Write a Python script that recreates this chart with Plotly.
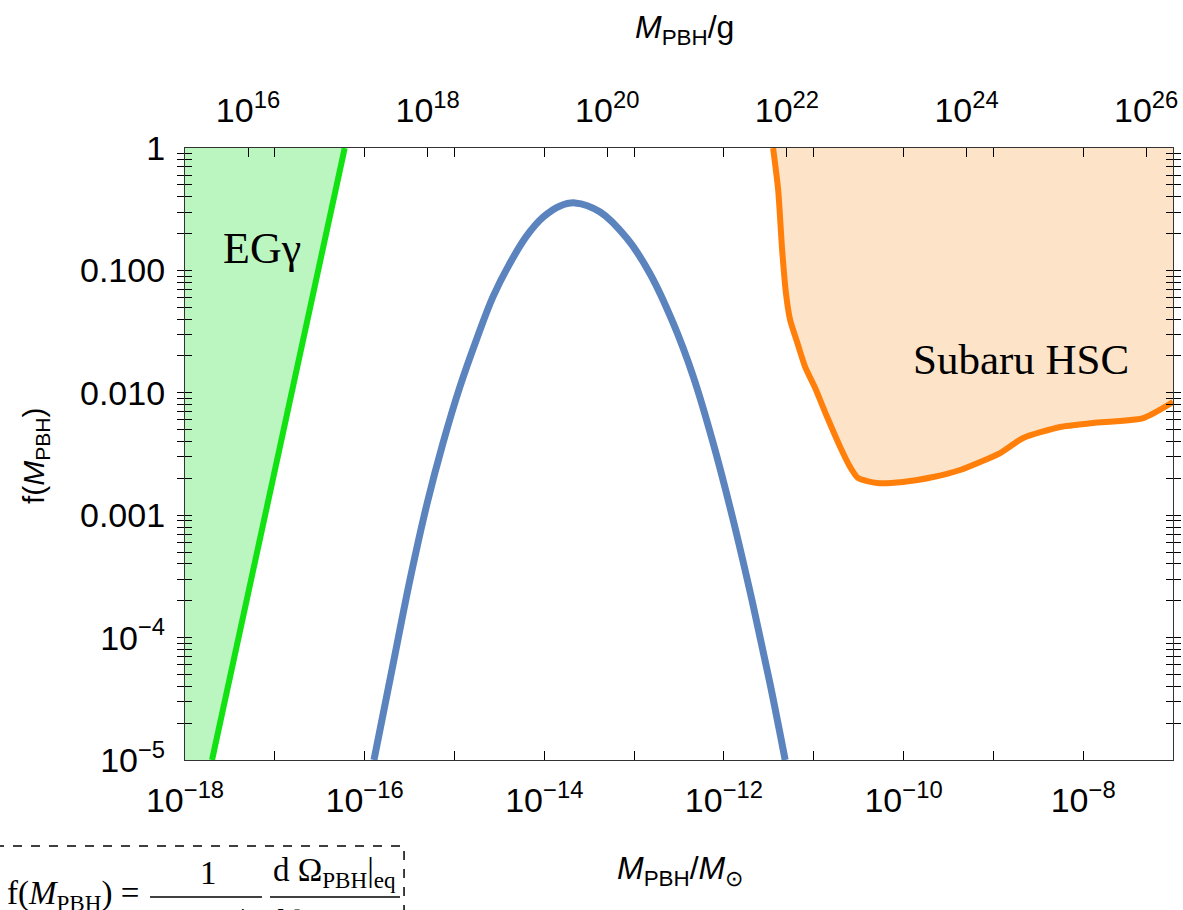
import math
import plotly.graph_objects as go

# ---------------- data ----------------
# Blue curve: f(M_PBH) of the PBH mass function
blue_mass = [1.27e-16, 2.07e-16, 3.21e-16, 4.95e-16, 7.46e-16, 1.15e-15, 1.79e-15,
             2.69e-15, 4.16e-15, 6.43e-15, 9.70e-15, 1.50e-14, 2.20e-14, 4.19e-14,
             8.36e-14, 1.51e-13, 2.72e-13, 4.54e-13, 7.59e-13, 1.26e-12, 2.11e-12,
             3.27e-12, 4.81e-12]
blue_f = [1.0e-5, 6.03e-5, 3.01e-4, 1.24e-3, 3.89e-3, 1.12e-2, 2.82e-2,
          6.10e-2, 0.115, 0.193, 0.272, 0.336, 0.356, 0.300,
          0.182, 0.0935, 0.0372, 0.0137, 3.89e-3, 9.31e-4, 1.85e-4,
          4.18e-5, 1.0e-5]

# Extragalactic gamma-ray (EG gamma) bound
eg_mass = [2.0e-18, 6.0e-17]
eg_f = [1.0e-5, 1.0]

# Subaru HSC microlensing bound
hsc_mass = [3.53e-12, 4.02e-12, 4.45e-12, 4.93e-12, 5.46e-12, 6.53e-12, 8.02e-12,
            1.04e-11, 1.41e-11, 1.97e-11, 2.54e-11, 3.12e-11, 5.08e-11, 9.91e-11,
            2.14e-10, 4.27e-10, 7.13e-10, 1.19e-9, 2.15e-9, 5.55e-9, 1.29e-8,
            4.66e-8, 1.0e-7]
hsc_f = [1.0, 0.454, 0.147, 0.0630, 0.0393, 0.0260, 0.0163,
         0.0109, 6.34e-3, 3.61e-3, 2.48e-3, 2.01e-3, 1.83e-3, 1.87e-3,
         2.05e-3, 2.34e-3, 2.72e-3, 3.22e-3, 4.27e-3, 5.26e-3, 5.66e-3,
         6.22e-3, 8.41e-3]

# axes
x_range_msun = [1e-18, 1e-7]
y_range = [1e-5, 1.0]
MSUN_G = 1.989e33
x_tick_exps = [-18, -17, -16, -15, -14, -13, -12, -11, -10, -9, -8]
x_label_exps = [-18, -16, -14, -12, -10, -8]
top_tick_exps = [16, 18, 20, 22, 24, 26]
y_major = [1e-5, 1e-4, 1e-3, 1e-2, 1e-1, 1.0]
y_major_text = ["10<sup>\u22125</sup>", "10<sup>\u22124</sup>", "0.001", "0.010", "0.100", "1"]

GREEN_LINE = "#12E212"
GREEN_FILL = "#BBF6C1"
ORANGE_LINE = "#FF7F0A"
ORANGE_FILL = "#FDE3C8"
BLUE_LINE = "#5B84BF"

fig = go.Figure()

# green excluded region
fig.add_trace(go.Scatter(
    x=[x_range_msun[0], eg_mass[0], eg_mass[1], x_range_msun[0]],
    y=[eg_f[0], eg_f[0], eg_f[1], eg_f[1]],
    fill="toself", fillcolor=GREEN_FILL, mode="lines", line=dict(width=0),
    hoverinfo="skip", showlegend=False))
# orange excluded region
fig.add_trace(go.Scatter(
    x=hsc_mass + [x_range_msun[1]], y=hsc_f + [y_range[1]],
    fill="toself", fillcolor=ORANGE_FILL, mode="lines", line=dict(width=0),
    hoverinfo="skip", showlegend=False))

fig.add_trace(go.Scatter(x=eg_mass, y=eg_f, mode="lines",
                         line=dict(color=GREEN_LINE, width=6), showlegend=False))
fig.add_trace(go.Scatter(x=hsc_mass, y=hsc_f, mode="lines",
                         line=dict(color=ORANGE_LINE, width=6, shape="spline", smoothing=0.6),
                         showlegend=False))
fig.add_trace(go.Scatter(x=blue_mass, y=blue_f, mode="lines",
                         line=dict(color=BLUE_LINE, width=7, shape="spline", smoothing=1.0),
                         showlegend=False))
# invisible trace so the top (gram) axis is drawn
fig.add_trace(go.Scatter(x=[1e16], y=[1e-6], xaxis="x2", mode="markers",
                         marker=dict(opacity=0), showlegend=False, hoverinfo="skip"))

TICKFONT = dict(family="Liberation Sans, Arial, sans-serif", size=34, color="black")

y_tickvals, y_ticktext = [], []
for i, v in enumerate(y_major):
    y_tickvals.append(v)
    y_ticktext.append(y_major_text[i])
    if v < 1.0:
        for k in range(2, 10):
            y_tickvals.append(v * k)
            y_ticktext.append("")

fig.update_layout(
    width=1183, height=910,
    margin=dict(l=185, r=10, t=148, b=150),
    plot_bgcolor="white", paper_bgcolor="white",
    xaxis=dict(type="log", range=[math.log10(x_range_msun[0]), math.log10(x_range_msun[1])],
               tickvals=[10.0 ** e for e in x_tick_exps],
               ticktext=[("10<sup>\u2212%d</sup>" % -e) if e in x_label_exps else "" for e in x_tick_exps],
               ticks="inside", ticklen=9, tickcolor="black", tickwidth=1,
               showline=True, linecolor="#333", linewidth=1.2, mirror="ticks",
               showgrid=False, zeroline=False, tickfont=TICKFONT, ticklabelstandoff=10,
               automargin=False),
    xaxis2=dict(type="log", overlaying="x", side="top",
                range=[math.log10(x_range_msun[0] * MSUN_G), math.log10(x_range_msun[1] * MSUN_G)],
                tickvals=[10.0 ** e for e in top_tick_exps],
                ticktext=["10<sup>%d</sup>" % e for e in top_tick_exps],
                ticks="inside", ticklen=9, tickcolor="black",
                showgrid=False, zeroline=False, tickfont=TICKFONT, ticklabelstandoff=18,
                automargin=False),
    yaxis=dict(type="log", range=[math.log10(y_range[0]), math.log10(y_range[1])],
               tickvals=y_tickvals, ticktext=y_ticktext,
               ticks="inside", ticklen=7, tickcolor="black",
               showline=True, linecolor="#333", linewidth=1.2, mirror="allticks",
               showgrid=False, zeroline=False, tickfont=TICKFONT, ticklabelstandoff=12,
               automargin=False),
)

SERIF = "Liberation Serif, Times New Roman, serif"
SANS = "Liberation Sans, Arial, sans-serif"


def note(x, y, text, font, xanchor="center", yanchor="middle", **kw):
    return dict(x=x, y=y, xref="paper", yref="paper", showarrow=False, text=text,
                font=font, xanchor=xanchor, yanchor=yanchor, **kw)


ann = [
    note(0.0779, 0.8366, "EG\u03b3", dict(family=SERIF, size=44, color="black")),
    note(0.846, 0.654, "Subaru HSC", dict(family=SERIF, size=43, color="black")),
    note(0.506, 1.193, "<i>M</i><sub>PBH</sub>/g", dict(family=SANS, size=32, color="black")),
    note(0.501, -0.18, "<i>M</i><sub>PBH</sub>/<i>M</i><sub>\u2299</sub>",
         dict(family=SANS, size=32, color="black")),
    note(-0.152, 0.498, "f(<i>M</i><sub>PBH</sub>)", dict(family=SANS, size=30, color="black"),
         textangle=-90),
]
FF = dict(family=SERIF, size=33, color="black")
ann += [
    note(-0.0445, -0.222, "f(<i>M</i><sub>PBH</sub>) =", FF, xanchor="right"),
    note(0.0233, -0.1846, "1", FF),
    note(0.1518, -0.1846, "d \u03a9<sub>PBH</sub>|<sub>eq</sub>", FF),
    note(0.0233, -0.2320, "\u03a9<sub>PBH</sub>|", FF, yanchor="top"),
    note(0.1518, -0.2320, "d ln <i>M</i><sub>PBH</sub>", FF, yanchor="top"),
]
fig.update_layout(annotations=ann)

shapes = [
    dict(type="rect", xref="paper", yref="paper", x0=-0.1923, x1=0.2217, y0=-0.1405, y1=-0.40,
         line=dict(color="black", width=1.5, dash="dash")),
    dict(type="line", xref="paper", yref="paper", x0=-0.0354, x1=0.0779, y0=-0.224, y1=-0.224,
         line=dict(color="black", width=1.5)),
    dict(type="line", xref="paper", yref="paper", x0=0.086, x1=0.2176, y0=-0.224, y1=-0.224,
         line=dict(color="black", width=1.5)),
]
fig.update_layout(shapes=shapes)

fig.write_html("out.html", config={"displayModeBar": False},
               post_script="document.body.style.margin='0';document.body.style.overflow='hidden';")
